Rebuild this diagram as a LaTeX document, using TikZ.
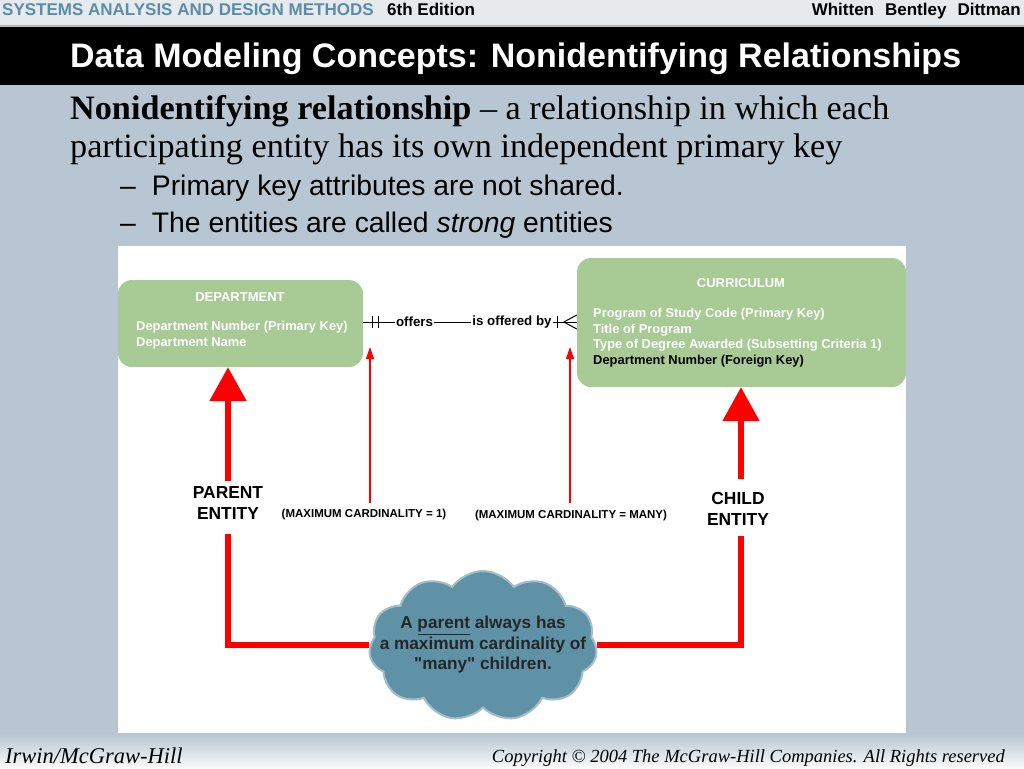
\documentclass[tikz,border=0pt]{standalone}
\usepackage{fontspec}
\setmainfont{Liberation Serif}
\setsansfont{Liberation Sans}
\usetikzlibrary{arrows.meta,shapes.symbols}
\definecolor{bgblue}{HTML}{B7C6D2}
\definecolor{topgray}{HTML}{E6EAED}
\definecolor{hdrblue}{HTML}{5A8DAA}
\definecolor{entgreen}{HTML}{A8CB95}
\definecolor{cloudblue}{HTML}{5F92A6}
\definecolor{cloudedge}{HTML}{A3BDC8}
\definecolor{redc}{HTML}{FF0000}
\tikzset{
  entity/.style={fill=entgreen, rounded corners=14pt, inner sep=0pt},
  enttitle/.style={font=\sffamily\bfseries\fontsize{13}{15}\selectfont, text=white, inner sep=0pt},
  entattr/.style={font=\sffamily\bfseries\fontsize{12.9}{15.7}\selectfont, text=white, align=left, inner sep=0pt, anchor=north west},
  rellabel/.style={font=\sffamily\bfseries\fontsize{13.3}{15}\selectfont, fill=white, inner sep=1pt},
  thinarrow/.style={draw=redc, line width=1.2pt, -{Triangle[width=8pt,length=12pt]}},
  thickarrow/.style={draw=redc, line width=5.5pt, -{Triangle[width=36pt,length=34pt]}},
  thickline/.style={draw=redc, line width=5.5pt},
  rolelabel/.style={font=\sffamily\bfseries\fontsize{17.4}{20.5}\selectfont, align=center, inner sep=0pt},
  cardlabel/.style={font=\sffamily\bfseries\fontsize{11.5}{13}\selectfont, inner sep=0pt},
  cloudtext/.style={font=\sffamily\bfseries\fontsize{17.2}{20.5}\selectfont, text=black!85, align=center, inner sep=0pt}
}
\begin{document}
\begin{tikzpicture}[x=1pt,y=-1pt]
\useasboundingbox (0,0) rectangle (1024,768);
% backgrounds
\fill[bgblue] (0,0) rectangle (1024,768);
\fill[topgray] (0,0) rectangle (1024,25);
\draw[gray!60, line width=1pt] (0,25.5) -- (1024,25.5);
\fill[black] (0,27) rectangle (1024,85);
\shade[top color=bgblue, bottom color=white!92!bgblue] (0,734) rectangle (1024,768);
% header texts
\node[anchor=base west, inner sep=0pt, font=\sffamily\bfseries\fontsize{17}{19}\selectfont, text=hdrblue] (hdr) at (2,16) {SYSTEMS ANALYSIS AND DESIGN METHODS};
\node[anchor=base west, inner sep=0pt, font=\sffamily\bfseries\fontsize{17}{19}\selectfont] (ed) at (387,16) {6th Edition};
\node[anchor=base east, inner sep=0pt, font=\sffamily\bfseries\fontsize{17}{19}\selectfont] (auth) at (1021,16) {Whitten\hspace{11pt}Bentley\hspace{11pt}Dittman};
\node[anchor=base west, inner sep=0pt, font=\sffamily\bfseries\fontsize{34}{38}\selectfont, text=white] (title) at (70,67) {Data Modeling Concepts: Nonidentifying Relationships};
% body text
\node[anchor=base west, inner sep=0pt, font=\fontsize{34.2}{40}\selectfont] (l1) at (70,119) {\textbf{Nonidentifying relationship} -- a relationship in which each};
\node[anchor=base west, inner sep=0pt, font=\fontsize{34.2}{40}\selectfont] (l2) at (70,157) {participating entity has its own independent primary key};
\node[anchor=base west, inner sep=0pt, font=\sffamily\fontsize{28.3}{32}\selectfont] (b1) at (120,195) {--\hspace{16pt}Primary key attributes are not shared.};
\node[anchor=base west, inner sep=0pt, font=\sffamily\fontsize{28.3}{32}\selectfont] (b2) at (120,232) {--\hspace{16pt}The entities are called \textit{strong} entities};
% footer
\node[anchor=base west, inner sep=0pt, font=\itshape\fontsize{22.5}{26}\selectfont] (irwin) at (5,763) {Irwin/McGraw-Hill};
\node[anchor=base east, inner sep=0pt, font=\itshape\fontsize{18.5}{22}\selectfont] (copy) at (1005,762) {Copyright \textcopyright{} 2004 The McGraw-Hill Companies. All Rights reserved};
% diagram panel
\fill[white] (118,246) rectangle (906,733);
% entities
\node[entity, minimum width=245pt, minimum height=87pt] (dept) at (240.5,323.5) {};
\node[enttitle] (deptT) at (240,297) {DEPARTMENT};
\node[entattr] (deptA) at (136,321) {Department Number (Primary Key)\\Department Name};
\node[entity, minimum width=329pt, minimum height=129pt] (curr) at (741.5,322.5) {};
\node[enttitle] (currT) at (741,283) {CURRICULUM};
\node[entattr] (currA) at (593,308) {Program of Study Code (Primary Key)\\Title of Program\\Type of Degree Awarded (Subsetting Criteria 1)\\\textcolor{black}{Department Number (Foreign Key)}};
% relationship
\coordinate (rA) at (dept.east |- 0,322);
\coordinate (rB) at (curr.west |- 0,322);
\draw[line width=1pt] (rA) -- (rB);
\draw[line width=1pt] ([xshift=9pt]rA) ++(0,-6) -- ++(0,12);
\draw[line width=1pt] ([xshift=15pt]rA) ++(0,-6) -- ++(0,12);
\draw[line width=1pt] ([xshift=-19pt]rB) ++(0,-6) -- ++(0,12);
\draw[line width=1pt] ([xshift=-13pt]rB) -- ([yshift=-7pt]rB);
\draw[line width=1pt] ([xshift=-13pt]rB) -- ([yshift=7pt]rB);
\node[rellabel] (offers) at (414.5,322) {offers};
\node[rellabel] (offby) at (512,322) {is offered by};
% cardinality labels and thin arrows
\node[cardlabel] (card1) at (364,515) {(MAXIMUM CARDINALITY = 1)};
\node[cardlabel] (cardm) at (571,516) {(MAXIMUM CARDINALITY = MANY)};
\coordinate (t1s) at (370,503);
\coordinate (t1e) at (370,347);
\coordinate (t2s) at (570,503);
\coordinate (t2e) at (570,347);
\draw[thinarrow] (t1s) -- (t1e);
\draw[thinarrow] (t2s) -- (t2e);
% role labels
\node[rolelabel] (parent) at (228,503) {PARENT\\ENTITY};
\node[rolelabel] (child) at (738,509) {CHILD\\ENTITY};
\coordinate (pA) at (228,481);
\coordinate (cA) at (741,479);
\draw[thickarrow] (pA) -- (pA |- dept.south);
\draw[thickarrow] (cA) -- (cA |- curr.south);
% cloud
\node[cloud, cloud puffs=11, cloud puff arc=110, aspect=1.55, fill=cloudblue, draw=cloudedge, line width=2pt, minimum width=228pt, minimum height=150pt, inner sep=0pt] (cl) at (483,646) {};
\node[cloudtext] (clT) at (483,645) {A \underline{parent} always has\\a maximum cardinality of\\\textquotedbl many\textquotedbl{} children.};
\coordinate (pB) at (228,534);
\coordinate (cB) at (741,536);
\draw[thickline] (pB) -- (pB |- 0,645) -- (cl.west |- 0,645);
\draw[thickline] (cB) -- (cB |- 0,645) -- (cl.east |- 0,645);
\end{tikzpicture}
\end{document}
